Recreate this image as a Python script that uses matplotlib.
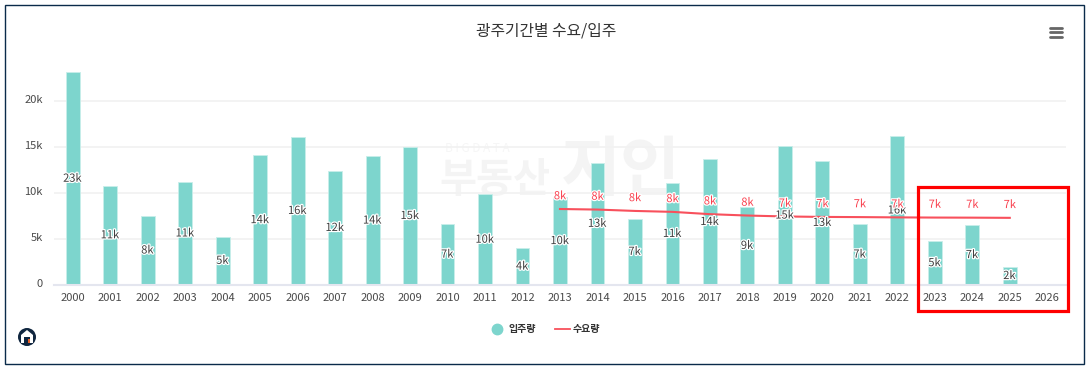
import matplotlib
matplotlib.use("Agg")
import matplotlib.pyplot as plt
import matplotlib.patheffects as pe
from matplotlib.lines import Line2D
from matplotlib.patches import Circle, Polygon, Rectangle
from matplotlib.transforms import ScaledTranslation
import numpy as np

plt.rcParams['font.family'] = ['Noto Sans CJK KR', 'DejaVu Sans']

W, H = 1088, 368

years = list(range(2000, 2027))
supply = [23.1, 10.8, 7.5, 11.2, 5.25, 14.1, 16.1, 12.4, 14.0, 15.0, 6.6, 9.85, 4.0, 9.55,
          13.3, 7.2, 11.1, 13.7, 8.5, 15.1, 13.5, 6.6, 16.2, 4.75, 6.5, 1.95, 0]
supply_labels = ['23k', '11k', '8k', '11k', '5k', '14k', '16k', '12k', '14k', '15k', '7k', '10k', '4k', '10k',
                 '13k', '7k', '11k', '14k', '9k', '15k', '13k', '7k', '16k', '5k', '7k', '2k', '']
demand_years = list(range(2013, 2026))
demand = [8.26, 8.2, 8.05, 7.95, 7.7, 7.55, 7.45, 7.4, 7.38, 7.35, 7.33, 7.32, 7.3]
demand_labels = ['8k', '8k', '8k', '8k', '8k', '8k', '7k', '7k', '7k', '7k', '7k', '7k', '7k']

TEAL = '#7dd5cd'
RED = '#f8505c'
TXT = '#4a4a4a'

fig = plt.figure(figsize=(W / 100, H / 100), dpi=100, facecolor='white')

# pixel layers for the page decoration, under and over the chart
back = fig.add_axes([0, 0, 1, 1], zorder=0)
top = fig.add_axes([0, 0, 1, 1], zorder=2)
for a in (back, top):
    a.set_xlim(0, W)
    a.set_ylim(H, 0)
    a.axis('off')
top.patch.set_alpha(0)

back.add_patch(Rectangle((5, 4.5), 1079, 359.5, fc='white', ec='#0a2a4a', lw=1))
back.text(445, 148, 'B I G D A T A', fontsize=8.5, color='#f6f6f6', va='center')
back.text(439, 180, '부동산', fontsize=29, color='#f4f4f4', va='center', fontweight='bold')
back.text(561, 170, '지인', fontsize=47, color='#f4f4f4', va='center', fontweight='bold')

# chart
ax = fig.add_axes([54 / W, 1 - 285 / H, 1012 / W, 185 * 1.3 / H], zorder=1)
ax.patch.set_alpha(0)
ax.set_xlim(-0.5, 26.5)
ax.set_ylim(0, 185 * 1.3 / 9.2)

pos = np.arange(len(years))
ax.bar(pos, supply, width=0.37, color=TEAL, edgecolor='#c8eeea', linewidth=0.6, zorder=2)
dx = [y - years[0] for y in demand_years]
ax.plot(dx, demand, color=RED, lw=1.5, zorder=3)

halo = [pe.withStroke(linewidth=1.8, foreground='white')]

for i, v, s in zip(pos, supply, supply_labels):
    if s:
        ax.text(i - 0.01, v / 2, s, ha='center', va='center', fontsize=8, color='#3d3d3d', path_effects=halo, zorder=4)
for i, v, s in zip(dx, demand, demand_labels):
    ax.annotate(s, (i, v), xytext=(0, 9.2), textcoords='offset points', ha='center', va='center',
                fontsize=8, color='#f9404e', path_effects=halo, zorder=5)

ax.set_yticks([0, 5, 10, 15, 20])
ax.set_yticklabels(['0', '5k', '10k', '15k', '20k'], fontsize=8, color=TXT)
ax.set_xticks(pos)
ax.set_xticklabels(years, fontsize=8, color=TXT)
ax.tick_params(axis='both', length=0)
ax.tick_params(axis='y', pad=8)
ax.tick_params(axis='x', pad=6)
shift = ScaledTranslation(0, 1.5 / 72, fig.dpi_scale_trans)
for lab in ax.get_yticklabels():
    lab.set_transform(lab.get_transform() + shift)
ax.grid(axis='y', color='#f2f2f2', lw=1.3, zorder=1)
ax.set_axisbelow(True)
for s in ['top', 'right', 'left']:
    ax.spines[s].set_visible(False)
ax.spines['bottom'].set_color('#e4e6ef')
ax.spines['bottom'].set_linewidth(1.5)

handles = [Line2D([], [], ls='none', marker='o', ms=7.5, color=TEAL, label='입주량'),
           Line2D([], [], color=RED, lw=1.3, label='수요량')]
fig.legend(handles=handles, loc='center', bbox_to_anchor=(545 / W, 1 - 329 / H), ncols=2, frameon=False,
           prop={'size': 7.2, 'weight': 'bold'}, labelcolor='#333333', handlelength=1.5, handletextpad=0.35, columnspacing=1.9)

fig.text(546 / W, 1 - 30.5 / H, '광주기간별 수요/입주', ha='center', va='center', fontsize=11.4, color='#333333')

# menu icon
for y in (27.5, 32, 36.5):
    top.plot([1050, 1062], [y, y], color='#666666', lw=2, solid_capstyle='round')

# logo
top.add_patch(Circle((27, 337), 9, fc='#10263f', ec='none'))
top.add_patch(Polygon([(21, 343), (21, 335), (27, 330), (33, 335), (33, 343)], fc='white', ec='none'))
top.add_patch(Rectangle((24, 337), 6, 6, fc='#10263f', ec='none'))
top.add_patch(Rectangle((28, 339), 2, 4, fc='#e8622a', ec='none'))

# red highlight box
top.add_patch(Rectangle((918, 187), 149.5, 123.5, fill=False, ec='#ff0000', lw=2.3))

fig.savefig('out.png', dpi=100)
